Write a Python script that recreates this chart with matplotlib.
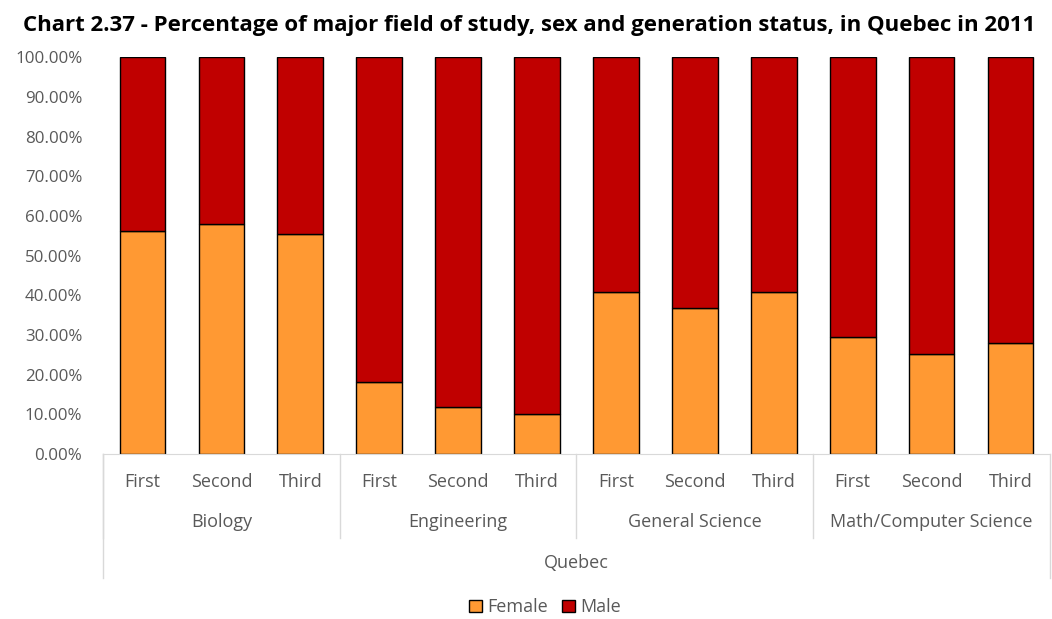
import numpy as np
import matplotlib.pyplot as plt
from matplotlib.transforms import blended_transform_factory

plt.rcParams['font.family'] = ['Open Sans', 'DejaVu Sans']

fields = ['Biology', 'Engineering', 'General Science', 'Math/Computer Science']
generations = ['First', 'Second', 'Third']
region = 'Quebec'

# female share (%) by field, in generation order
female = [56.3, 58.0, 55.5,
          18.1, 11.9, 10.2,
          40.8, 36.9, 40.8,
          29.4, 25.3, 28.0]
male = [100 - f for f in female]

orange = '#FF9933'
red = '#C00000'
grey = '#595959'
line_grey = '#D9D9D9'

fig = plt.figure(figsize=(10.52, 6.19), dpi=100)
ax = fig.add_axes([0.098, 0.2666, 0.9, 0.641])

x = np.arange(len(female)) + 0.5
ax.bar(x, female, width=0.58, color=orange, edgecolor='black', linewidth=1, label='Female')
ax.bar(x, male, width=0.58, bottom=female, color=red, edgecolor='black', linewidth=1, label='Male')

ax.set_xlim(0, len(female))
ax.set_ylim(0, 100)
ax.set_yticks(np.arange(0, 101, 10))
ax.set_yticklabels([f'{v:.2f}%' for v in np.arange(0, 101, 10)], color=grey, fontsize=12.2)
ax.tick_params(axis='y', length=0, pad=15)
ax.set_xticks([])
for s in ['top', 'right', 'left']:
    ax.spines[s].set_visible(False)
ax.spines['bottom'].set_color(line_grey)

# multi-level category labels under the axis
tr = blended_transform_factory(ax.transData, ax.transAxes)
px = 1 / (0.641 * 619)
for i, xi in enumerate(x):
    ax.text(xi, -28 * px, generations[i % 3], transform=tr, ha='center', va='center',
            color=grey, fontsize=13)
for g, name in enumerate(fields):
    ax.text(g * 3 + 1.5, -68 * px, name, transform=tr, ha='center', va='center',
            color=grey, fontsize=13)
    ax.plot([g * 3, g * 3], [0, -84 * px], transform=tr, color=line_grey, lw=1, clip_on=False)
ax.plot([12, 12], [0, -124 * px], transform=tr, color=line_grey, lw=1, clip_on=False)
ax.plot([0, 0], [0, -124 * px], transform=tr, color=line_grey, lw=1, clip_on=False)
ax.text(6, -109 * px, region, transform=tr, ha='center', va='center', color=grey, fontsize=13)

fig.legend(loc='center', bbox_to_anchor=(0.518, 0.019), ncol=2, frameon=False,
           fontsize=13, labelcolor=grey, handlelength=0.7, handleheight=0.7,
           handletextpad=0.3, columnspacing=0.8)

fig.suptitle('Chart 2.37 - Percentage of major field of study, sex and generation status, in Quebec in 2011',
             x=0.503, y=0.975, fontsize=16, fontweight='bold')

fig.savefig('out.png', dpi=100)
